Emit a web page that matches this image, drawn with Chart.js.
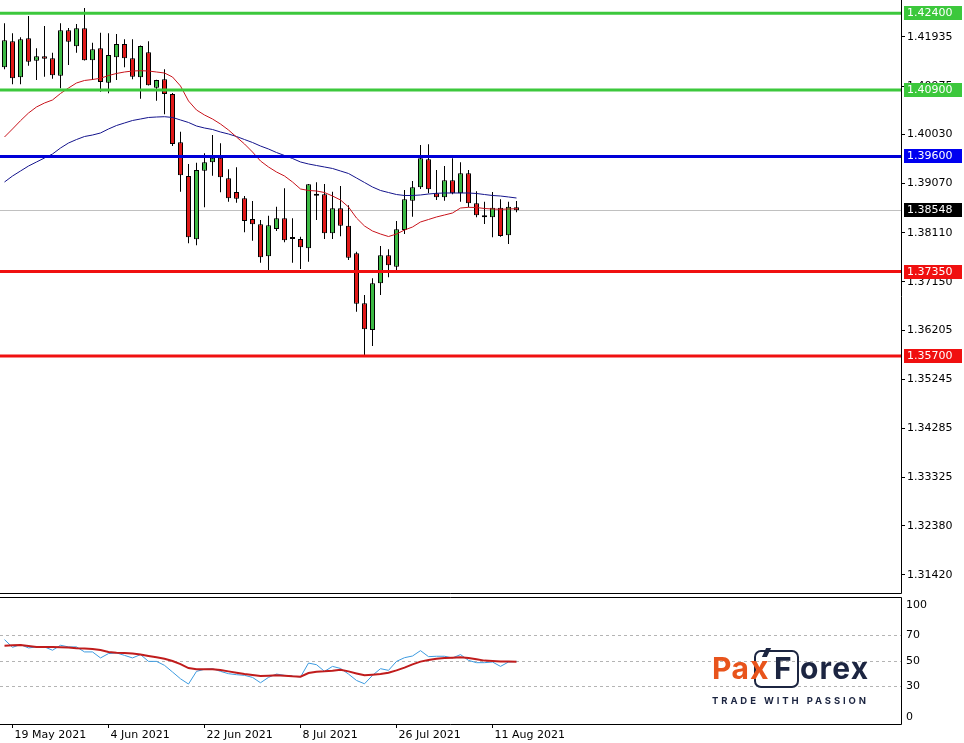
<!DOCTYPE html>
<html>
<head>
<meta charset="utf-8">
<script src="https://cdn.jsdelivr.net/npm/chart.js@4.4.1/dist/chart.umd.min.js"></script>
<style>
  body { margin: 0; background: #fff; }
  #wrap { position: relative; width: 964px; height: 743px; overflow: hidden; }
  canvas { display: block; }
  .lg { position: absolute; font-family: Inter, sans-serif; font-weight: 700; font-size: 30px; line-height: 30px; white-space: nowrap; }
  .or { color: #e8541c; }
  .nv { color: #1c2541; }
  #xbox { position: absolute; left: 754px; top: 650px; width: 41px; height: 34px; border: 2.5px solid #1c2541; border-radius: 7px; }
  #tick { position: absolute; left: 764px; top: 648px; width: 5px; height: 9px; background: #1c2541; transform: skewX(-25deg); }
  #tag { position: absolute; left: 712px; top: 695px; font-family: Inter, sans-serif; font-weight: 700; font-size: 9.5px; letter-spacing: 2.9px; color: #1c2541; white-space: nowrap; }
</style>
</head>
<body>
<div id="wrap">
  <canvas id="price" width="964" height="596"></canvas>
  <canvas id="osc" width="964" height="147"></canvas>
  <div id="xbox"></div>
  <div id="tick"></div>
  <div class="lg or" style="left:712px;top:653px;letter-spacing:0.5px">Pa</div>
  <div class="lg or" style="left:750px;top:653px;font-size:32px">x</div>
  <div class="lg nv" style="left:774px;top:653px">F</div>
  <div class="lg nv" style="left:800px;top:653px;letter-spacing:1.2px">orex</div>
  <div id="tag">TRADE WITH PASSION</div>
</div>
<script>
// ---- data (daily candles, 18 May .. 16 Aug 2021) ----
const opens = [1.41343, 1.41851, 1.41147, 1.41910, 1.41472, 1.41558, 1.41519, 1.41179, 1.42066, 1.41753,
  1.42105, 1.41480, 1.41714, 1.41042, 1.41538, 1.41798, 1.41519, 1.41147, 1.41636, 1.40944,
  1.41108, 1.40821, 1.39877, 1.39218, 1.37981, 1.39322, 1.39486, 1.39576, 1.39173, 1.38905,
  1.38782, 1.38377, 1.38274, 1.37648, 1.38182, 1.38391, 1.37987, 1.37987, 1.37805, 1.38833,
  1.38860, 1.38098, 1.38587, 1.38247, 1.37707, 1.36730, 1.36208, 1.37121, 1.37668, 1.37445,
  1.38162, 1.38735, 1.38997, 1.39544, 1.38880, 1.38802, 1.39134, 1.38880, 1.39271, 1.38684,
  1.38450, 1.38411, 1.38598, 1.38059, 1.38606];
const highs = [1.42203, 1.42007, 1.41929, 1.42346, 1.41714, 1.42150, 1.41628, 1.42203, 1.42111, 1.42189,
  1.42502, 1.41824, 1.42019, 1.42007, 1.41994, 1.41890, 1.41890, 1.41770, 1.41851, 1.41100,
  1.41304, 1.40840, 1.40084, 1.39453, 1.39478, 1.39662, 1.40019, 1.39857, 1.39349, 1.39388,
  1.38827, 1.38729, 1.38358, 1.38442, 1.38618, 1.38978, 1.38391, 1.38031, 1.39062, 1.39095,
  1.39062, 1.38911, 1.39023, 1.38645, 1.37738, 1.36892, 1.37218, 1.37850, 1.37785, 1.38338,
  1.38944, 1.39120, 1.39824, 1.39838, 1.39335, 1.39413, 1.39564, 1.39486, 1.39335, 1.38919,
  1.38716, 1.38905, 1.38763, 1.38716, 1.38729];
const lows = [1.41304, 1.41010, 1.41010, 1.41374, 1.41094, 1.41159, 1.41120, 1.40932, 1.41388, 1.41628,
  1.41475, 1.41094, 1.40866, 1.40835, 1.41094, 1.41343, 1.41108, 1.40729, 1.40985, 1.40690,
  1.40424, 1.39804, 1.38911, 1.37902, 1.37863, 1.38606, 1.39224, 1.38899, 1.38716, 1.38696,
  1.38118, 1.37953, 1.37523, 1.37381, 1.38143, 1.37922, 1.37523, 1.37400, 1.37543, 1.38358,
  1.37987, 1.37987, 1.38039, 1.37576, 1.36565, 1.35686, 1.35895, 1.36892, 1.37238, 1.37381,
  1.38084, 1.38422, 1.38964, 1.38880, 1.38749, 1.38735, 1.38860, 1.38716, 1.38606, 1.38411,
  1.38280, 1.38020, 1.38031, 1.37889, 1.38508];
const closes = [1.41871, 1.41128, 1.41890, 1.41452, 1.41558, 1.41511, 1.41186, 1.42066, 1.41843, 1.42105,
  1.41480, 1.41695, 1.41055, 1.41583, 1.41798, 1.41519, 1.41159, 1.41759, 1.40991, 1.41094,
  1.40821, 1.39844, 1.39232, 1.38020, 1.39335, 1.39486, 1.39576, 1.39193, 1.38782, 1.38774,
  1.38338, 1.38274, 1.37629, 1.38254, 1.38391, 1.37961, 1.37985, 1.37824, 1.39056, 1.38831,
  1.38098, 1.38587, 1.38247, 1.37621, 1.36722, 1.36221, 1.37121, 1.37668, 1.37472, 1.38176,
  1.38763, 1.38997, 1.39564, 1.38958, 1.38802, 1.39134, 1.38880, 1.39271, 1.38684, 1.38450,
  1.38411, 1.38598, 1.38045, 1.38618, 1.38548];

// moving averages (red = fast, navy = slow)
const maFast = [1.39980, 1.40137, 1.40299, 1.40449, 1.40567, 1.40645, 1.40704, 1.40831, 1.40938, 1.41036,
  1.41085, 1.41104, 1.41128, 1.41182, 1.41222, 1.41251, 1.41270, 1.41276, 1.41270, 1.41251,
  1.41231, 1.41153, 1.40977, 1.40684, 1.40508, 1.40410, 1.40332, 1.40234, 1.40117, 1.39980,
  1.39844, 1.39687, 1.39511, 1.39394, 1.39296, 1.39218, 1.39101, 1.38964, 1.38935, 1.38925,
  1.38895, 1.38827, 1.38749, 1.38612, 1.38397, 1.38241, 1.38143, 1.38084, 1.38035, 1.38084,
  1.38162, 1.38221, 1.38319, 1.38368, 1.38417, 1.38456, 1.38495, 1.38592, 1.38606, 1.38602,
  1.38583, 1.38573, 1.38567, 1.38573, 1.38579];
const maSlow = [1.39101, 1.39218, 1.39316, 1.39413, 1.39492, 1.39570, 1.39648, 1.39765, 1.39863, 1.39931,
  1.39990, 1.40019, 1.40059, 1.40137, 1.40205, 1.40254, 1.40303, 1.40332, 1.40362, 1.40371,
  1.40377, 1.40362, 1.40313, 1.40264, 1.40195, 1.40156, 1.40127, 1.40078, 1.40039, 1.39990,
  1.39931, 1.39873, 1.39804, 1.39746, 1.39677, 1.39619, 1.39560, 1.39492, 1.39453, 1.39423,
  1.39394, 1.39365, 1.39316, 1.39267, 1.39179, 1.39091, 1.39003, 1.38935, 1.38895, 1.38856,
  1.38837, 1.38837, 1.38847, 1.38866, 1.38880, 1.38886, 1.38886, 1.38886, 1.38886, 1.38876,
  1.38856, 1.38837, 1.38827, 1.38808, 1.38788];

// oscillator window (RSI and its average)
const rsi = [66.7, 60.7, 62.8, 60.2, 61.0, 61.0, 58.4, 62.3, 61.0, 61.0,
  57.1, 57.1, 52.4, 55.8, 56.3, 54.4, 52.4, 55.0, 49.7, 49.7,
  46.6, 41.4, 36.1, 32.0, 41.9, 43.5, 44.0, 41.9, 40.1, 39.3,
  38.8, 37.2, 33.0, 37.2, 39.8, 38.8, 38.2, 37.5, 48.4, 47.1,
  41.9, 45.8, 44.2, 39.8, 34.8, 32.2, 38.8, 44.0, 42.7, 49.7,
  52.6, 53.9, 58.1, 53.4, 53.7, 53.7, 52.4, 55.0, 50.5, 48.7,
  48.7, 49.2, 45.8, 49.2, 49.7];
const rsiAvg = [62.0, 62.3, 62.5, 61.8, 61.0, 61.0, 61.0, 60.7, 60.5, 59.9,
  59.7, 59.4, 58.6, 57.1, 56.5, 56.3, 55.8, 55.0, 53.9, 52.9,
  51.8, 50.0, 47.6, 44.5, 43.5, 43.5, 43.5, 42.9, 41.9, 40.8,
  39.8, 39.0, 38.2, 38.5, 38.8, 38.5, 38.0, 37.7, 40.6, 41.6,
  41.9, 42.4, 43.2, 41.9, 40.3, 38.8, 39.3, 39.8, 40.8, 42.7,
  44.8, 47.4, 49.5, 50.8, 51.8, 52.4, 52.6, 52.9, 52.4, 51.3,
  50.3, 50.0, 49.7, 49.7, 49.5];

// horizontal levels and axis ticks
const greenLevels = [1.42400, 1.40900];
const blueLevels = [1.39600];
const redLevels = [1.37350, 1.35700];
const lastPrice = 1.38548;
const priceTicks = [1.41935, 1.40975, 1.40030, 1.39070, 1.38110, 1.37150, 1.36205, 1.35245, 1.34285, 1.33325, 1.32380, 1.31420];
const oscTicks = [0, 30, 50, 70, 100];
const oscLevels = [30, 50, 70];
const dateTickBars = [1, 13, 25, 37, 49, 61];
const dateTickLabels = ["19 May 2021", "4 Jun 2021", "22 Jun 2021", "8 Jul 2021", "26 Jul 2021", "11 Aug 2021"];

// ---- styling ----
Chart.defaults.font.family = "'DejaVu Sans', sans-serif";
Chart.defaults.font.size = 11;
Chart.defaults.color = "#000";
Chart.defaults.animation = false;

const bull = "#3cb944";
const bear = "#e01818";
const xMin = -0.5625;   // bar 0 sits 4.5px in
const xMax = 112.0625;  // 8px per bar across 901px
const axisWidth = 63;

const bars = opens.map((_, i) => i);
const wickData = bars.map(i => ({ x: i, y: [lows[i], highs[i]] }));
const bodyData = bars.map(i => ({ x: i, y: [opens[i], closes[i]] }));
const bodyColors = bars.map(i => (closes[i] >= opens[i] ? bull : bear));
const toXY = arr => arr.map((v, i) => ({ x: i, y: v }));

// keep the axes from shrinking the plot to fit their edge labels
function fixWidth(s) {
  s.width = axisWidth;
  s.paddingTop = 0; s.paddingBottom = 0; s.paddingLeft = 0; s.paddingRight = 0;
}
function fixHeight(s) {
  s.height = 18;
  s.paddingTop = 0; s.paddingBottom = 0; s.paddingLeft = 0; s.paddingRight = 0;
}

function boxLabel(ctx, area, y, text, fill) {
  ctx.save();
  ctx.fillStyle = fill;
  ctx.fillRect(area.right + 3, Math.round(y) - 7, 58, 14);
  ctx.fillStyle = "#fff";
  ctx.font = "11px 'DejaVu Sans', sans-serif";
  ctx.textBaseline = "middle";
  ctx.fillText(text, area.right + 6, Math.round(y) + 0.5);
  ctx.restore();
}

function hLine(ctx, area, y, color, width) {
  ctx.save();
  ctx.strokeStyle = color;
  ctx.lineWidth = width;
  ctx.beginPath();
  ctx.moveTo(area.left, y);
  ctx.lineTo(area.right, y);
  ctx.stroke();
  ctx.restore();
}

const priceDecor = {
  id: "priceDecor",
  beforeDatasetsDraw(chart) {
    const y = chart.scales.y.getPixelForValue(lastPrice);
    hLine(chart.ctx, chart.chartArea, Math.round(y) + 0.5, "#c0c0c0", 1);
  },
  afterDatasetsDraw(chart) {
    const { ctx, chartArea } = chart;
    const ys = chart.scales.y;
    greenLevels.forEach(v => hLine(ctx, chartArea, ys.getPixelForValue(v), "#3cc83c", 3));
    blueLevels.forEach(v => hLine(ctx, chartArea, ys.getPixelForValue(v), "#0000d8", 3));
    redLevels.forEach(v => hLine(ctx, chartArea, ys.getPixelForValue(v), "#f01010", 3));
  },
  afterDraw(chart) {
    const { ctx, chartArea } = chart;
    const ys = chart.scales.y;
    ctx.save();
    ctx.strokeStyle = "#000";
    ctx.lineWidth = 1;
    ctx.beginPath();
    ctx.moveTo(chartArea.left, chartArea.bottom - 0.5);
    ctx.lineTo(chartArea.right + 0.5, chartArea.bottom - 0.5);
    ctx.lineTo(chartArea.right + 0.5, chartArea.top);
    ctx.stroke();
    ctx.restore();
    greenLevels.forEach(v => boxLabel(ctx, chartArea, ys.getPixelForValue(v), v.toFixed(5), "#3cc83c"));
    blueLevels.forEach(v => boxLabel(ctx, chartArea, ys.getPixelForValue(v), v.toFixed(5), "#0000f0"));
    boxLabel(ctx, chartArea, ys.getPixelForValue(lastPrice), lastPrice.toFixed(5), "#000");
    redLevels.forEach(v => boxLabel(ctx, chartArea, ys.getPixelForValue(v), v.toFixed(5), "#f01010"));
  }
};

new Chart(document.getElementById("price"), {
  type: "bar",
  data: {
    datasets: [
      { type: "line", data: toXY(maFast), borderColor: "#c8141c", borderWidth: 1, pointRadius: 0, order: 1 },
      { type: "line", data: toXY(maSlow), borderColor: "#14148c", borderWidth: 1, pointRadius: 0, order: 1 },
      { data: bodyData, backgroundColor: bodyColors, borderColor: "#000", borderWidth: 1, borderSkipped: false,
        barThickness: 5, minBarLength: 2, grouped: false, inflateAmount: 0, order: 2 },
      { data: wickData, backgroundColor: "#000", borderWidth: 0, barThickness: 1,
        grouped: false, inflateAmount: 0, order: 3 }
    ]
  },
  options: {
    responsive: false,
    devicePixelRatio: 1,
    layout: { autoPadding: false, padding: { top: 0, left: 0, right: 0, bottom: 2 } },
    plugins: { legend: { display: false }, tooltip: { enabled: false } },
    scales: {
      x: { type: "linear", min: xMin, max: xMax, offset: false, display: false },
      y: {
        position: "right",
        min: 1.31048,
        max: 1.42658,
        afterBuildTicks: s => { s.ticks = priceTicks.map(v => ({ value: v })); },
        afterFit: fixWidth,
        ticks: { callback: v => Number(v).toFixed(5), padding: 2, autoSkip: false },
        grid: { drawOnChartArea: false, drawTicks: true, tickLength: 4, color: "#000" },
        border: { display: false }
      }
    }
  },
  plugins: [priceDecor]
});

const oscDecor = {
  id: "oscDecor",
  afterDraw(chart) {
    const { ctx, chartArea } = chart;
    const ys = chart.scales.y;
    ctx.save();
    ctx.strokeStyle = "#000";
    ctx.lineWidth = 1;
    ctx.beginPath();
    ctx.moveTo(chartArea.left, chartArea.top + 0.5);
    ctx.lineTo(chartArea.right + 0.5, chartArea.top + 0.5);
    ctx.lineTo(chartArea.right + 0.5, chartArea.bottom - 0.5);
    ctx.lineTo(chartArea.left, chartArea.bottom - 0.5);
    ctx.stroke();
    ctx.fillStyle = "#000";
    ctx.font = "11px 'DejaVu Sans', sans-serif";
    ctx.textBaseline = "middle";
    oscTicks.forEach(v => {
      let y = ys.getPixelForValue(v);
      y = Math.min(Math.max(y, chartArea.top + 8), chartArea.bottom - 8);
      ctx.fillText(String(v), chartArea.right + 5, y);
    });
    ctx.restore();
  }
};

new Chart(document.getElementById("osc"), {
  type: "line",
  data: {
    datasets: [
      { data: toXY(rsiAvg), borderColor: "#c01c1c", borderWidth: 2, pointRadius: 0, order: 1 },
      { data: toXY(rsi), borderColor: "#3d9be0", borderWidth: 1, pointRadius: 0, order: 2 }
    ]
  },
  options: {
    responsive: false,
    devicePixelRatio: 1,
    layout: { autoPadding: false, padding: { top: 1, left: 0, right: 0, bottom: 0 } },
    plugins: { legend: { display: false }, tooltip: { enabled: false } },
    scales: {
      x: {
        type: "linear", min: xMin, max: xMax, offset: false,
        afterBuildTicks: s => { s.ticks = dateTickBars.map(v => ({ value: v })); },
        afterFit: fixHeight,
        ticks: {
          callback: v => dateTickLabels[dateTickBars.indexOf(v)],
          align: "start", labelOffset: 2, padding: 1, maxRotation: 0, autoSkip: false
        },
        grid: { drawOnChartArea: false, drawTicks: true, tickLength: 3, color: "#000" },
        border: { display: false }
      },
      y: {
        position: "right",
        min: 0,
        max: 100,
        afterBuildTicks: s => { s.ticks = oscTicks.map(v => ({ value: v })); },
        afterFit: fixWidth,
        ticks: { display: false },
        grid: {
          drawTicks: false,
          color: c => (c.tick && oscLevels.includes(c.tick.value) ? "#b4b4b4" : "rgba(0,0,0,0)")
        },
        border: { display: false, dash: [3, 3] }
      }
    }
  },
  plugins: [oscDecor]
});
</script>
</body>
</html>
